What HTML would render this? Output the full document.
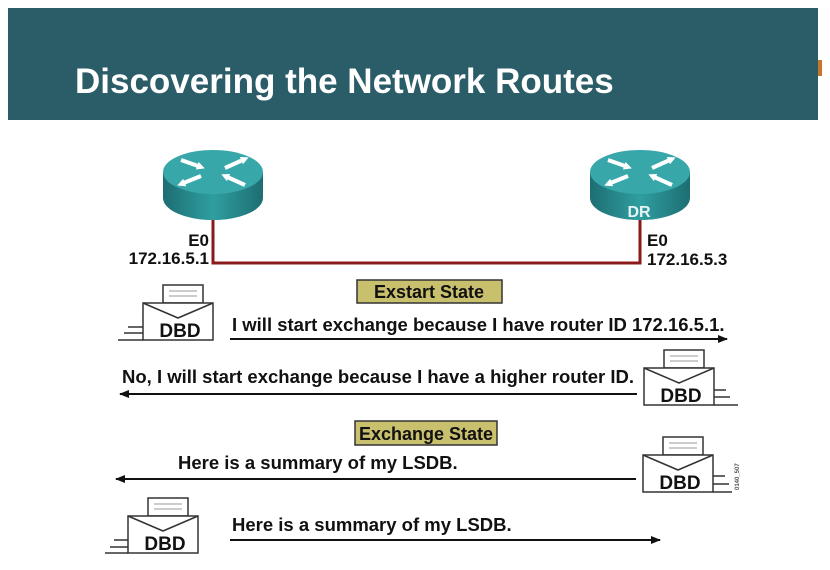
<!DOCTYPE html>
<html><head><meta charset="utf-8"><style>
html,body{margin:0;padding:0;background:#fff}
svg{display:block}
text{font-family:"Liberation Sans",Arial,sans-serif;font-weight:bold}
</style></head><body>
<svg width="830" height="570" viewBox="0 0 830 570" xmlns="http://www.w3.org/2000/svg">
<defs>
<linearGradient id="rb" x1="0" x2="1" y1="0" y2="0">
<stop offset="0" stop-color="#1d6e72"/><stop offset="0.5" stop-color="#2f9ea0"/><stop offset="1" stop-color="#1d6e72"/>
</linearGradient>
<marker id="ah" markerWidth="10" markerHeight="8" refX="9" refY="4" orient="auto" markerUnits="userSpaceOnUse">
<path d="M0,0 L10,4 L0,8 Z" fill="#111"/></marker>
<marker id="wa" markerWidth="8" markerHeight="8" refX="4" refY="4" orient="auto" markerUnits="userSpaceOnUse">
<path d="M0,0 L8,4 L0,8 Z" fill="#fff"/></marker>
<g id="env">
<rect x="20" y="0" width="40" height="18" fill="#fff" stroke="#333" stroke-width="1.5"/>
<line x1="26" y1="6" x2="54" y2="6" stroke="#999"/><line x1="26" y1="11" x2="54" y2="11" stroke="#999"/>
<rect x="0" y="18" width="70" height="37" fill="#fff" stroke="#333" stroke-width="1.5"/>
<polyline points="0,18 35,33 70,18" fill="none" stroke="#333" stroke-width="1.5"/>
<text x="37" y="52" font-size="19" text-anchor="middle" fill="#111">DBD</text>
</g>
<g id="router">
<path d="M-50,0 L-50,26 A50,22 0 0 0 50,26 L50,0 Z" fill="url(#rb)"/>
<ellipse cx="0" cy="0" rx="50" ry="22" fill="#38a7aa"/>
<g stroke="#fff" stroke-width="4">
<line x1="-32" y1="-12" x2="-12" y2="-5" marker-end="url(#wa)"/><line x1="12" y1="-4" x2="32" y2="-13" marker-end="url(#wa)"/>
<line x1="-12" y1="4" x2="-32" y2="12" marker-end="url(#wa)"/><line x1="32" y1="13" x2="12" y2="4" marker-end="url(#wa)"/>
</g>
</g>
</defs>
<rect x="8" y="8" width="810" height="112" fill="#2b5d68"/>
<rect x="818" y="60" width="4" height="16" fill="#c8752a"/>
<text x="75" y="93" font-size="35" fill="#fff">Discovering the Network Routes</text>

<polyline points="213,205 213,263 640,263 640,218" fill="none" stroke="#8b1a1a" stroke-width="3"/>
<use href="#router" x="213" y="172"/>
<use href="#router" x="640" y="172"/>
<text x="639" y="217" font-size="16" fill="#e8f4f4" text-anchor="middle" font-weight="normal">DR</text>

<text x="209" y="246" font-size="17" text-anchor="end" fill="#111">E0</text>
<text x="209" y="264" font-size="17" text-anchor="end" fill="#111">172.16.5.1</text>
<text x="647" y="246" font-size="17" fill="#111">E0</text>
<text x="647" y="265" font-size="17" fill="#111">172.16.5.3</text>

<rect x="357" y="280" width="145" height="23" fill="#c9c06e" stroke="#333" stroke-width="1.5"/>
<text x="429" y="298" font-size="18" text-anchor="middle" fill="#111">Exstart State</text>
<rect x="355" y="421" width="142" height="24" fill="#c9c06e" stroke="#333" stroke-width="1.5"/>
<text x="426" y="440" font-size="18" text-anchor="middle" fill="#111">Exchange State</text>

<use href="#env" x="143" y="285"/>
<g stroke="#333" stroke-width="1.5"><line x1="128" y1="327" x2="143" y2="327"/><line x1="124" y1="333" x2="143" y2="333"/><line x1="118" y1="340" x2="143" y2="340"/></g>
<text x="232" y="331" font-size="18.5" fill="#111">I will start exchange because I have router ID 172.16.5.1.</text>
<line x1="230" y1="339" x2="727" y2="339" stroke="#111" stroke-width="2" marker-end="url(#ah)"/>

<text x="122" y="383" font-size="18.5" fill="#111">No, I will start exchange because I have a higher router ID.</text>
<line x1="637" y1="394" x2="120" y2="394" stroke="#111" stroke-width="2" marker-end="url(#ah)"/>
<use href="#env" x="644" y="350"/>
<g stroke="#333" stroke-width="1.5"><line x1="714" y1="390" x2="726" y2="390"/><line x1="714" y1="397" x2="730" y2="397"/><line x1="714" y1="405" x2="738" y2="405"/></g>

<text x="178" y="469" font-size="18.5" fill="#111">Here is a summary of my LSDB.</text>
<line x1="636" y1="479" x2="116" y2="479" stroke="#111" stroke-width="2" marker-end="url(#ah)"/>
<use href="#env" x="643" y="437"/>
<g stroke="#333" stroke-width="1.5"><line x1="713" y1="476" x2="725" y2="476"/><line x1="713" y1="484" x2="729" y2="484"/><line x1="713" y1="492" x2="732" y2="492"/></g>
<text x="739" y="490" font-size="6" fill="#555" font-weight="normal" transform="rotate(-90 739 490)">0140_507</text>

<use href="#env" x="128" y="498"/>
<g stroke="#333" stroke-width="1.5"><line x1="114" y1="540" x2="128" y2="540"/><line x1="110" y1="547" x2="128" y2="547"/><line x1="105" y1="553" x2="128" y2="553"/></g>
<text x="232" y="531" font-size="18.5" fill="#111">Here is a summary of my LSDB.</text>
<line x1="230" y1="540" x2="660" y2="540" stroke="#111" stroke-width="2" marker-end="url(#ah)"/>
</svg>
</body></html>
